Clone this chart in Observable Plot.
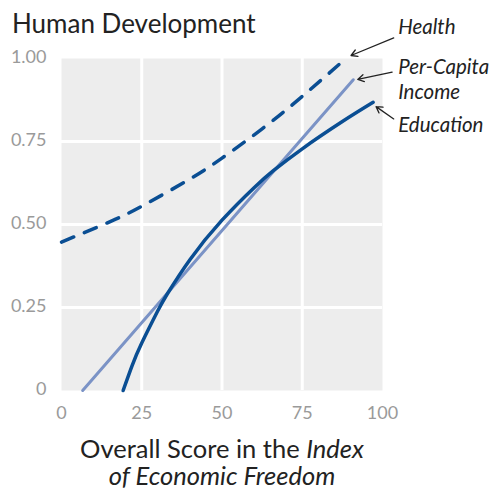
<!DOCTYPE html>
<html>
<head>
<meta charset="utf-8">
<script src="https://cdn.jsdelivr.net/npm/d3@7"></script>
<script src="https://cdn.jsdelivr.net/npm/@observablehq/plot@0.6"></script>
<style>
  html, body { margin: 0; padding: 0; background: #fff; }
  #chart { width: 494px; height: 491px; }
</style>
</head>
<body>
<div id="chart"></div>
<script>
// ---- data ----
const titleText = "Human Development";
const xTicks = [0, 25, 50, 75, 100];
const xTickLabels = ["0", "25", "50", "75", "100"];
const yTicks = [0, 0.25, 0.5, 0.75, 1];
const yTickLabels = ["0", "0.25", "0.50", "0.75", "1.00"];

const healthX = [0, 15, 25, 40, 50, 62.5, 75, 88];
const healthY = [0.447, 0.508, 0.555, 0.637, 0.70, 0.788, 0.886, 0.995];

const incomeX = [6.6, 90.9];
const incomeY = [0, 0.936];

const educationX = [19.2, 22, 25, 30, 32.9, 40, 50, 60, 66, 75, 87.5, 97.1];
const educationY = [0, 0.075, 0.143, 0.24, 0.29, 0.394, 0.513, 0.611, 0.662, 0.728, 0.810, 0.868];

// annotation labels (data coordinates) and their arrows
const noteLabels = ["Health", "Per-Capita", "Income", "Education"];
const noteX = [104.9, 104.9, 104.9, 104.9];
const noteY = [1.093, 0.974, 0.899, 0.798];
const arrowFromX = [103.5, 103.0, 103.5];
const arrowFromY = [1.062, 0.959, 0.818];
const arrowToX = [90.2, 92.3, 98.0];
const arrowToY = [1.009, 0.937, 0.855];

const dark = "#0a4e93";
const light = "#7b93c6";
const font = "Lato, 'Open Sans', sans-serif";

const health = healthX.map((x, i) => ({x, y: healthY[i]}));
const income = incomeX.map((x, i) => ({x, y: incomeY[i]}));
const education = educationX.map((x, i) => ({x, y: educationY[i]}));
const notes = noteLabels.map((t, i) => ({t, x: noteX[i], y: noteY[i]}));
const arrows = arrowFromX.map((x1, i) => ({x1, y1: arrowFromY[i], x2: arrowToX[i], y2: arrowToY[i]}));

const plot = Plot.plot({
  width: 494,
  height: 491,
  marginTop: 58,
  marginLeft: 61,
  marginRight: 112,
  marginBottom: 101,
  style: {fontFamily: font, fontSize: "18px", overflow: "visible", background: "#fff"},
  x: {domain: [0, 100]},
  y: {domain: [0, 1]},
  marks: [
    Plot.frame({fill: "#ededed", stroke: null}),
    Plot.gridX([25, 50, 75], {stroke: "#fff", strokeOpacity: 1, strokeWidth: 3}),
    Plot.gridY([0.25, 0.5, 0.75], {stroke: "#fff", strokeOpacity: 1, strokeWidth: 3}),
    Plot.axisX(xTicks, {tickSize: 0, tickPadding: 16, label: null, fill: "#9a9a9a", fontSize: 18,
      tickFormat: d => xTickLabels[xTicks.indexOf(d)]}),
    Plot.axisY(yTicks, {tickSize: 0, tickPadding: 15, label: null, fill: "#9a9a9a", fontSize: 18, dy: -1,
      tickFormat: d => yTickLabels[yTicks.indexOf(d)]}),
    Plot.line(income, {x: "x", y: "y", stroke: light, strokeWidth: 3}),
    Plot.line(education, {x: "x", y: "y", stroke: dark, strokeWidth: 3.5, curve: "natural"}),
    Plot.line(health, {x: "x", y: "y", stroke: dark, strokeWidth: 3.5, curve: "natural",
      strokeDasharray: "13,11.5", strokeLinecap: "round"}),
    Plot.arrow(arrows, {x1: "x1", y1: "y1", x2: "x2", y2: "y2", stroke: "#222", strokeWidth: 1.3,
      headLength: 8, bend: 0}),
    Plot.text(notes, {x: "x", y: "y", text: "t", textAnchor: "start", lineAnchor: "middle",
      fontSize: 20.5, fontStyle: "italic", fill: "#222"})
  ]
});

const svg = d3.select(plot);
svg.append("text")
  .attr("x", 12).attr("y", 33)
  .attr("text-anchor", "start")
  .attr("font-size", 26).attr("fill", "#222")
  .attr("font-family", font)
  .text(titleText);

const xl = svg.append("text")
  .attr("text-anchor", "middle")
  .attr("font-size", 25.5).attr("fill", "#222")
  .attr("font-family", font);
xl.append("tspan").attr("x", 222).attr("y", 458).text("Overall Score in the ");
xl.append("tspan").attr("font-style", "italic").text("Index");
xl.append("tspan").attr("x", 222).attr("y", 485).attr("font-style", "italic").text("of Economic Freedom");

document.getElementById("chart").appendChild(plot);
</script>
</body>
</html>
